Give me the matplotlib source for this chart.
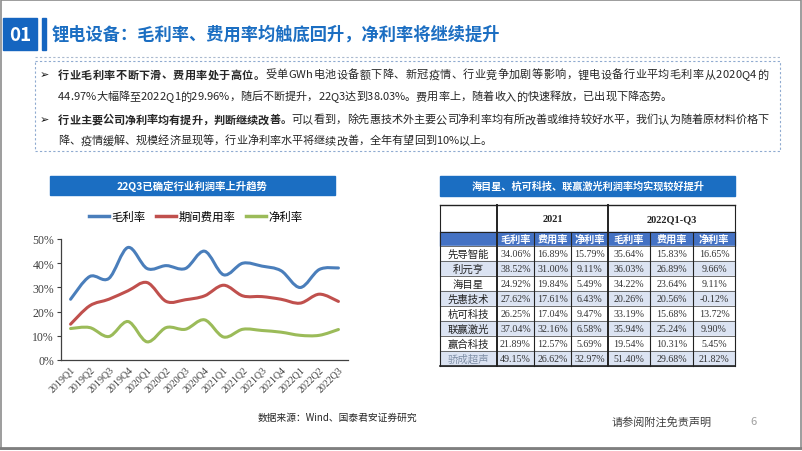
import numpy as np
import matplotlib
matplotlib.use("Agg")
import matplotlib.pyplot as plt
from matplotlib.path import Path
from matplotlib.patches import PathPatch, Rectangle
from matplotlib.lines import Line2D

plt.rcParams['font.family'] = ['Noto Sans CJK SC', 'DejaVu Sans']

# ── 数据 ───────────────────────────────────────────────────────────────
quarters = ["2019Q1", "2019Q2", "2019Q3", "2019Q4", "2020Q1", "2020Q2", "2020Q3",
            "2020Q4", "2021Q1", "2021Q2", "2021Q3", "2021Q4", "2022Q1", "2022Q2", "2022Q3"]
gross_margin = [25.1, 34.5, 33.7, 46.5, 37.8, 39.0, 37.8, 44.97, 35.2, 40.0, 38.8, 36.9, 29.96, 37.4, 38.03]
expense_rate = [14.8, 22.4, 25.1, 28.6, 32.0, 24.2, 24.9, 26.5, 30.9, 26.5, 26.2, 25.1, 23.5, 27.2, 24.2]
net_margin = [13.0, 13.4, 9.7, 15.9, 7.5, 13.4, 12.7, 16.6, 9.5, 12.7, 12.2, 11.5, 10.2, 10.2, 12.6]
series_names = ["毛利率", "期间费用率", "净利率"]

companies = ["先导智能", "利元亨", "海目星", "先惠技术", "杭可科技", "联赢激光", "赢合科技", "骄成超声"]
gm_2021 = ["34.06%", "38.52%", "24.92%", "27.62%", "26.25%", "37.04%", "21.89%", "49.15%"]
er_2021 = ["16.89%", "31.00%", "19.84%", "17.61%", "17.04%", "32.16%", "12.57%", "26.62%"]
nm_2021 = ["15.79%", "9.11%", "5.49%", "6.43%", "9.47%", "6.58%", "5.69%", "32.97%"]
gm_2022 = ["35.64%", "36.03%", "34.22%", "20.26%", "33.19%", "35.94%", "19.54%", "51.40%"]
er_2022 = ["15.83%", "26.89%", "23.64%", "20.56%", "15.68%", "25.24%", "10.31%", "29.68%"]
nm_2022 = ["16.65%", "9.66%", "9.11%", "-0.12%", "13.72%", "9.90%", "5.45%", "21.82%"]
periods = ["2021", "2022Q1-Q3"]
metrics = ["毛利率", "费用率", "净利率"]

title = "锂电设备：毛利率、费用率均触底回升，净利率将继续提升"
bullets = [
    [("行业毛利率不断下滑、费用率处于高位。", "bold"),
     ("受单GWh电池设备额下降、新冠疫情、行业竞争加剧等影响，锂电设备行业平均毛利率从2020Q4的", "normal")],
    [("44.97%大幅降至2022Q1的29.96%，随后不断提升，22Q3达到38.03%。费用率上，随着收入的快速释放，已出现下降态势。", "normal")],
    [("行业主要公司净利率均有提升，判断继续改善。", "bold"),
     ("可以看到，除先惠技术外主要公司净利率均有所改善或维持较好水平，我们认为随着原材料价格下", "normal")],
    [("降、疫情缓解、规模经济显现等，行业净利率水平将继续改善，全年有望回到10%以上。", "normal")],
]

BLUE = "#1b6ec2"
W, H = 802, 452
fig = plt.figure(figsize=(W / 100, H / 100), dpi=100)
bg = fig.add_axes([0, 0, 1, 1])
bg.set_xlim(0, W)
bg.set_ylim(H, 0)
bg.axis("off")
r = fig.canvas.get_renderer()

# ── 页眉 ───────────────────────────────────────────────────────────────
bg.add_patch(Rectangle((0.5, 0.5), W - 1.5, H - 3, fill=False, ec="#8c8c8c", lw=1.2))
bg.plot([0, W], [449, 449], color="#7f7f7f", lw=2)
bg.add_patch(Rectangle((3, 19), 34, 32, color="#1565c0"))
bg.text(20, 35.5, "01", color="white", fontsize=13.5, fontweight="bold", ha="center", va="center")
bg.add_patch(Rectangle((42, 19), 4, 32, color="#1565c0"))
bg.text(52, 35, title, color=BLUE, fontsize=12.4, fontweight="bold", va="center")
bg.plot([35, 780], [58, 58], color="#a9b9cf", lw=0.8, ls=(0, (2, 2)))


# ── 文字框（两端对齐的行逐字排布）─────────────────────────────────────
def draw_line(parts, y, size, x0=58, end=None):
    chars = [(ch, w) for s, w in parts for ch in s]
    widths = []
    for ch, w in chars:
        t = bg.text(0, 0, ch, fontsize=size, fontweight=w)
        widths.append(t.get_window_extent(r).width)
        t.remove()
    gap = 0 if end is None else (end - x0 - sum(widths)) / (len(chars) - 1)
    x = x0
    for (ch, w), cw in zip(chars, widths):
        bg.text(x, y, ch, fontsize=size, fontweight=w, va="center", color="#262626")
        x += cw + gap


bg.add_patch(Rectangle((35, 62), 745, 90, fill=False, ec="#8faad0", lw=0.8, ls=(0, (2, 2))))
line_y = [75, 97, 120, 141]
line_end = [768, None, 769, None]
for i, (parts, y) in enumerate(zip(bullets, line_y)):
    if i in (0, 2):
        bg.text(40, y, "➢", fontsize=8, family="DejaVu Sans", va="center", color="#111111")
    draw_line(parts, y, 8.0, end=line_end[i])

# ── 左图：折线 ─────────────────────────────────────────────────────────
bg.add_patch(Rectangle((50, 177), 285, 19, color=BLUE))
bg.text(192, 186.5, "22Q3已确定行业利润率上升趋势", color="white", fontsize=7.5,
        fontweight="bold", ha="center", va="center")

ax = fig.add_axes([61 / W, 1 - 361 / H, 287 / W, 121 / H])
xs = np.arange(len(quarters))
colors = ["#4a7ebb", "#c0504d", "#9bbb59"]


def smooth_path(x, y):
    # Excel 风格平滑曲线（贝塞尔）
    pts = np.column_stack([x, y])
    ext = np.vstack([pts[0], pts, pts[-1]])
    verts, codes = [pts[0]], [Path.MOVETO]
    for i in range(len(pts) - 1):
        p0, p1, p2, p3 = ext[i], ext[i + 1], ext[i + 2], ext[i + 3]
        verts += [p1 + (p2 - p0) / 6, p2 - (p3 - p1) / 6, p2]
        codes += [Path.CURVE4] * 3
    return Path(verts, codes)


handles = []
for vals, c, name in zip([gross_margin, expense_rate, net_margin], colors, series_names):
    ax.add_patch(PathPatch(smooth_path(xs, np.array(vals) / 100), fill=False, ec=c, lw=2.2,
                           capstyle="round", joinstyle="round"))
    handles.append(Line2D([], [], color=c, lw=2.5, label=name))

ax.set_xlim(-0.5, len(quarters) - 0.5)
ax.set_ylim(0, 0.5)
ax.set_yticks(np.arange(0, 0.51, 0.1))
ax.set_yticklabels([f"{int(v * 100)}%" for v in np.arange(0, 0.51, 0.1)],
                   family="Liberation Serif", fontsize=8.5)
ax.set_xticks(xs)
ax.set_xticklabels(quarters, rotation=45, ha="right", rotation_mode="anchor",
                   family="Liberation Serif", fontsize=7.2)
ax.tick_params(axis="y", length=3, width=0.8, pad=2, colors="#404040")
ax.tick_params(axis="x", length=0, pad=3, colors="#404040")
for sp in ["top", "right"]:
    ax.spines[sp].set_visible(False)
for sp in ["left", "bottom"]:
    ax.spines[sp].set_color("#404040")
    ax.spines[sp].set_linewidth(0.9)

fig.legend(handles=handles, loc="center", bbox_to_anchor=(196 / W, 1 - 217 / H), ncol=3,
           frameon=False, fontsize=8.2, handlelength=1.75, handletextpad=0.2, columnspacing=0.95)

# ── 右表 ───────────────────────────────────────────────────────────────
bg.add_patch(Rectangle((440, 177), 295, 20, color=BLUE))
bg.text(588, 187, "海目星、杭可科技、联赢激光利润率均实现较好提升", color="white", fontsize=7.3,
        fontweight="bold", ha="center", va="center")

col_x = [440, 497, 534, 571, 608, 650, 693, 735]
top, h1, h2, rh = 206, 27, 14, 15
row_top = top + h1 + h2
bg.add_patch(Rectangle((440, top + h1), 295, h2, color="#4472c4"))
for i in range(len(companies)):
    y0 = row_top + i * rh
    fc = "white" if i % 2 == 0 else "#dbe3f2"
    bg.add_patch(Rectangle((440, y0), 295, rh, color=fc))

for j, p in enumerate(periods):
    cx = (col_x[1 + 3 * j] + col_x[4 + 3 * j]) / 2
    bg.text(cx, top + h1 / 2, p, family="Liberation Serif", fontweight="bold", fontsize=7.5,
            ha="center", va="center", color="#222222")
    for k, m in enumerate(metrics):
        cx = (col_x[1 + 3 * j + k] + col_x[2 + 3 * j + k]) / 2
        bg.text(cx, top + h1 + h2 / 2, m, color="white", fontweight="bold", fontsize=7.3,
                ha="center", va="center")

table_cols = [gm_2021, er_2021, nm_2021, gm_2022, er_2022, nm_2022]
for i, name in enumerate(companies):
    cy = row_top + i * rh + rh / 2
    last = i == len(companies) - 1
    bg.text((col_x[0] + col_x[1]) / 2, cy, name, fontsize=7.5, ha="center", va="center",
            color="#7f8fa6" if last else "#222222")
    for k, col in enumerate(table_cols):
        bg.text((col_x[k + 1] + col_x[k + 2]) / 2, cy, col[i], family="Liberation Serif",
                fontsize=7.2, ha="center", va="center", color="#333333")

bottom = row_top + len(companies) * rh
for i in range(len(companies) + 1):
    y = row_top + i * rh
    bg.plot([440, 735], [y, y], color="#555555", lw=0.6)
bg.plot([440, 735], [top, top], color="#222222", lw=1.0)
bg.plot([440, 735], [top + h1, top + h1], color="#222222", lw=0.8)
bg.plot([440, 735], [bottom, bottom], color="#222222", lw=1.2)
for x in col_x:
    lw = 1.4 if x in (497, 608) else 0.8
    yy = top if x in (440, 497, 608, 735) else top + h1
    bg.plot([x, x], [yy, bottom], color="#222222", lw=lw)

# ── 页脚 ───────────────────────────────────────────────────────────────
bg.text(258, 418, "数据来源：Wind、国泰君安证券研究", fontsize=7, va="center", color="#262626")
bg.text(612, 422, "请参阅附注免责声明", fontsize=8, va="center", color="#404040")
bg.text(750, 422, "6", fontsize=8, va="center", color="#a0a0a0")

fig.savefig("out.png", dpi=100)
